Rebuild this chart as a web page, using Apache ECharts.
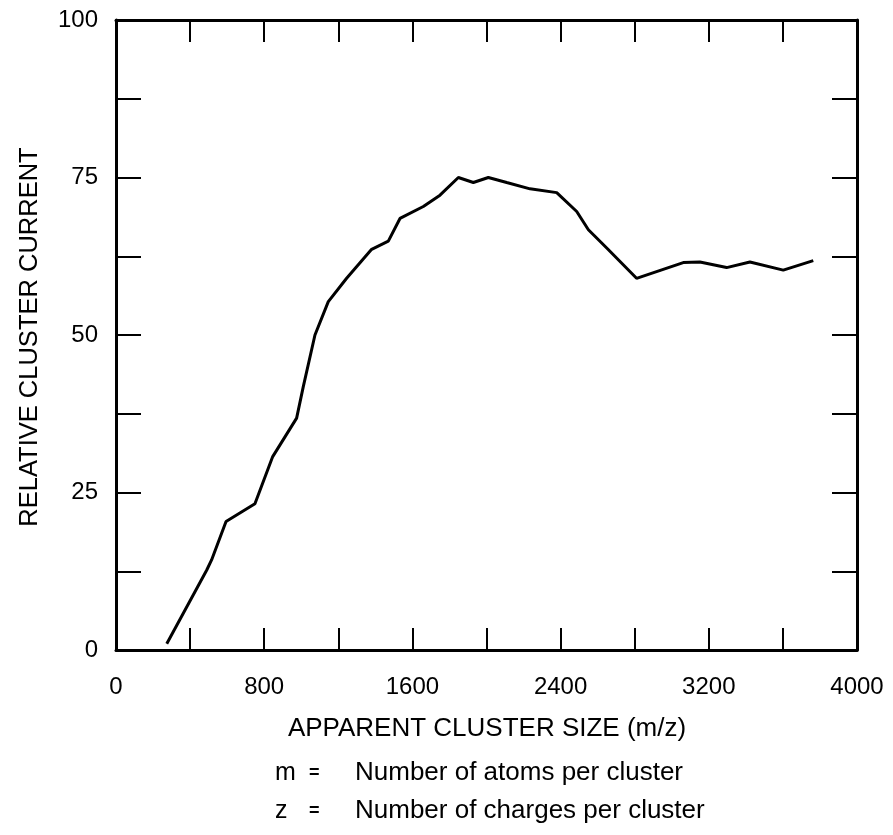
<!DOCTYPE html>
<html>
<head>
<meta charset="utf-8">
<script src="https://cdn.jsdelivr.net/npm/echarts@6/dist/echarts.min.js"></script>
<style>html,body{margin:0;padding:0;background:#fff;}#c{width:893px;height:835px;}</style>
</head>
<body>
<div id="c"></div>
<script>
// Apparent cluster size (m/z)
var sizes = [274, 490, 516, 594, 750, 846, 975, 1011, 1074, 1146, 1245, 1380, 1470, 1533, 1659, 1749, 1848, 1929, 2010, 2109, 2235, 2379, 2487, 2550, 2649, 2810, 3062, 3152, 3296, 3422, 3602, 3764];
// Relative cluster current
var currents = [1, 12.7, 14.3, 20.4, 23.2, 30.7, 36.8, 41.8, 50, 55.3, 59, 63.6, 64.9, 68.5, 70.4, 72.2, 75.0, 74.2, 75.0, 74.2, 73.2, 72.6, 69.6, 66.7, 63.8, 59.0, 61.5, 61.6, 60.7, 61.6, 60.3, 61.8];
var xTickLabels = [0, 800, 1600, 2400, 3200, 4000];
var yTickLabels = [0, 25, 50, 75, 100];
var xTitle = 'APPARENT CLUSTER SIZE (m/z)';
var yTitle = 'RELATIVE CLUSTER CURRENT';
var notes = [['m', '=', 'Number of atoms per cluster'], ['z', '=', 'Number of charges per cluster']];

var FONT = 'Liberation Sans, Arial, Helvetica, sans-serif';
var chart = echarts.init(document.getElementById('c'));
var mkCommon = function () {
  return {splitLine: {show: false}, axisLine: {show: true, onZero: false, lineStyle: {color: '#000', width: 3}}};
};
var data = sizes.map(function (s, i) { return [s, currents[i]]; });

var xLabelFmt = function (v) { return xTickLabels.indexOf(v) >= 0 ? String(v) : ''; };
var yLabelFmt = function (v) { return yTickLabels.indexOf(v) >= 0 ? String(v) : ''; };

var graphics = [
  {type: 'text', x: 30, y: 337, rotation: Math.PI / 2,
   style: {text: yTitle, font: '25.5px ' + FONT, fill: '#000', align: 'center', verticalAlign: 'middle'}},
  {type: 'text', x: 487, y: 729,
   style: {text: xTitle, font: '26px ' + FONT, fill: '#000', align: 'center', verticalAlign: 'middle'}}
];
notes.forEach(function (n, i) {
  var y = 773 + i * 38;
  graphics.push({type: 'text', x: 275, y: y, style: {text: n[0], font: '25px ' + FONT, fill: '#000', align: 'left', verticalAlign: 'middle'}});
  graphics.push({type: 'text', x: 309, y: y, style: {text: n[1], font: 'bold 18px ' + FONT, fill: '#000', align: 'left', verticalAlign: 'middle'}});
  graphics.push({type: 'text', x: 355, y: y, style: {text: n[2], font: '26px ' + FONT, fill: '#000', align: 'left', verticalAlign: 'middle'}});
});

chart.setOption({
  animation: false,
  backgroundColor: '#fff',
  grid: {left: 116, right: 36, top: 20, bottom: 185},
  xAxis: [
    Object.assign({type: 'value', position: 'bottom', min: 0, max: 4000, interval: 400,
      axisTick: {show: true, inside: true, length: 22, lineStyle: {color: '#000', width: 2}},
      axisLabel: {formatter: xLabelFmt, color: '#000', fontSize: 24, fontFamily: FONT, margin: 25, showMinLabel: true, showMaxLabel: true}}, mkCommon()),
    Object.assign({type: 'value', position: 'top', min: 0, max: 4000, interval: 400,
      axisTick: {show: true, inside: true, length: 22, lineStyle: {color: '#000', width: 2}},
      axisLabel: {show: false}}, mkCommon())
  ],
  yAxis: [
    Object.assign({type: 'value', position: 'left', min: 0, max: 100, interval: 12.5,
      axisTick: {show: true, inside: true, length: 25, lineStyle: {color: '#000', width: 2}},
      axisLabel: {formatter: yLabelFmt, color: '#000', fontSize: 24, fontFamily: FONT, margin: 18}}, mkCommon()),
    Object.assign({type: 'value', position: 'right', min: 0, max: 100, interval: 12.5,
      axisTick: {show: true, inside: true, length: 25, lineStyle: {color: '#000', width: 2}},
      axisLabel: {show: false}}, mkCommon())
  ],
  series: [{
    type: 'line', data: data, xAxisIndex: 0, yAxisIndex: 0,
    showSymbol: false, symbol: 'none', smooth: false,
    lineStyle: {color: '#000', width: 3}
  }],
  graphic: graphics
});
</script>
</body>
</html>
